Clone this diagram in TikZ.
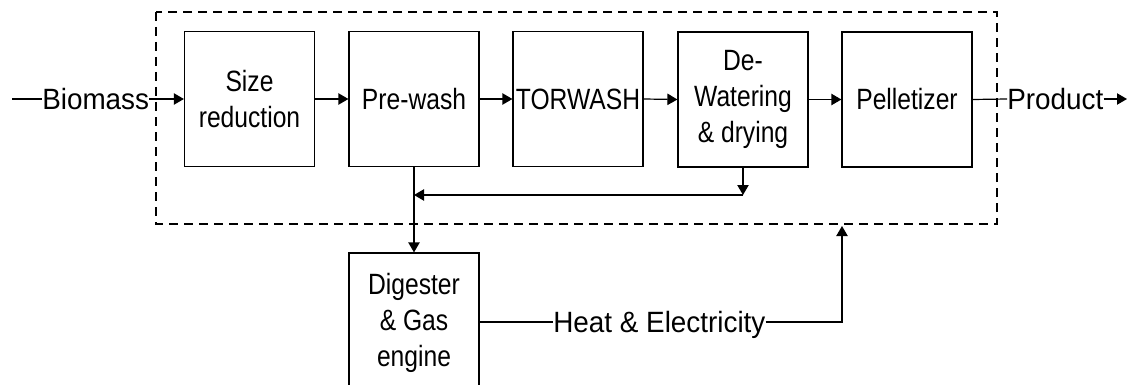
\documentclass[tikz,border=0pt]{standalone}
\usepackage{fontspec}
\setmainfont{Liberation Sans}[FakeStretch=0.95]
\newfontfamily\boxfont{Liberation Sans}[FakeStretch=0.84]
\usetikzlibrary{arrows.meta}
\begin{document}
\begin{tikzpicture}[x=0.75pt,y=-0.75pt,
  blk/.style={draw,line width=0.9pt,inner sep=0pt,minimum width=97.5pt,minimum height=101.25pt,align=center,font=\boxfont\fontsize{22}{27}\selectfont},
  lbl/.style={inner sep=0pt,font=\fontsize{22}{27}\selectfont,text height=15.8pt,text depth=0pt},
  ln/.style={line width=0.9pt},
  arr/.style={ln,-{Triangle[length=7.5pt,width=8.5pt]}},
  bound/.style={line width=2.2pt,dash pattern=on 7pt off 4.25pt}]
\useasboundingbox (0,0) rectangle (1128,385);
\clip (0,0) rectangle (1128,385);
\draw[bound] (156,12) rectangle (997,224);
\node[blk] (sr) at (249.5,99) {Size\\reduction};
\node[blk] (pw) at (414,99) {Pre-wash};
\node[blk] (tw) at (578,99) {TORWASH};
\node[blk] (dw) at (743,99.5) {De-\\Watering\\\& drying};
\node[blk] (pl) at (907,99.5) {Pelletizer};
\node[blk,minimum height=105pt] (dg) at (414,323) {Digester\\\& Gas\\engine};
\coordinate (bs) at (12,99);
\node[lbl,anchor=west] (bio) at (42,99) {Biomass};
\node[lbl,anchor=west] (prod) at (1007,99) {Product};
\coordinate (pe) at (1127,99);
\node[lbl,anchor=west] (he) at (553,322) {Heat \& Electricity};
\coordinate (fb) at (743,195);
\coordinate (fbl) at (414,195);
\coordinate (hc) at (842,322);
\coordinate (ht) at (842,226);
\draw[ln] (bs) -- (bio.west);
\draw[arr] (bio.east) -- (sr.west |- bio.east);
\draw[arr] (sr.east) -- (pw.west);
\draw[arr] (pw.east) -- (tw.west);
\draw[arr] (tw.east) -- (dw.west);
\draw[arr] (dw.east) -- (pl.west);
\draw[ln] (pl.east) -- (prod.west);
\draw[arr] (prod.east) -- (pe);
\draw[arr] (dw.south) -- (fb);
\draw[arr] (fb) -- (fbl);
\draw[arr] (pw.south) -- (dg.north);
\draw[ln] (dg.east |- he.west) -- (he.west);
\draw[arr] (he.east) -- (hc) -- (ht);
\end{tikzpicture}
\end{document}
